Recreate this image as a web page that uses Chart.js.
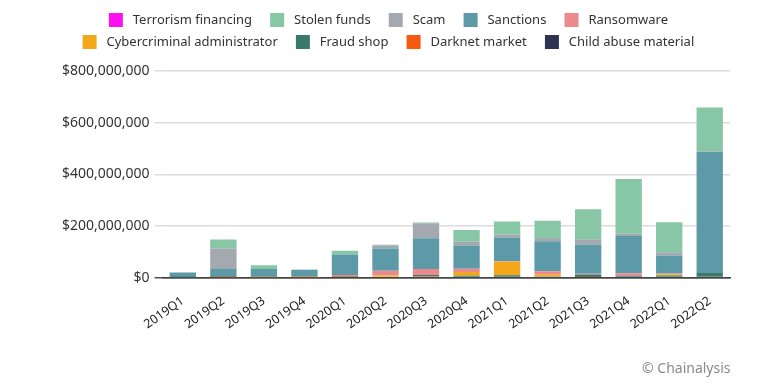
<!DOCTYPE html>
<html>
<head>
<meta charset="utf-8">
<script src="https://cdn.jsdelivr.net/npm/chart.js@4/dist/chart.umd.min.js"></script>
<style>
  html, body { margin: 0; padding: 0; background: #fff; }
  #wrap { position: relative; width: 765px; height: 387px; }
  #credit { position: absolute; left: 642px; top: 358px; font: 14px "Noto Sans", sans-serif; color: #8a8a8a; }
</style>
</head>
<body>
<div id="wrap">
  <canvas id="chart" width="765" height="387"></canvas>
  <div id="credit">© Chainalysis</div>
</div>
<script>
// quarters on the x axis
const quarters = ['2019Q1', '2019Q2', '2019Q3', '2019Q4', '2020Q1', '2020Q2', '2020Q3',
                  '2020Q4', '2021Q1', '2021Q2', '2021Q3', '2021Q4', '2022Q1', '2022Q2'];

// values in millions of USD
const terrorismFinancing = [0, 0, 0, 0, 0, 0, 0, 0, 0, 0, 0, 0, 0, 0];
const stolenFunds  = [0, 36, 15, 2, 15, 2, 3, 45, 50, 67, 116, 212, 116, 170];
const scam         = [0, 79, 0, 0, 0, 12, 58, 15, 12, 12, 21, 9, 12, 3];
const sanctions    = [19, 28, 30, 26, 79, 86, 119, 90, 92, 116, 113, 144, 70, 468];
const ransomware   = [0, 0, 0, 0, 6, 19, 23, 12, 2, 13, 3, 10, 3, 0];
const cyberAdmin   = [0, 0, 2, 1, 0, 5, 0, 15, 52, 8, 0, 0, 5, 0];
const fraudShop    = [1, 4, 1, 1, 2, 3, 6, 4, 9, 4, 10, 7, 8, 18];
const darknetMarket = [0, 1, 0, 1, 2, 0, 4, 3, 0, 0, 2, 0, 0, 0];
const childAbuse   = [0, 0, 0, 0, 0, 0, 0, 0, 0, 0, 0, 0, 0, 0];

const yTicks = [0, 200, 400, 600, 800];

// bottom of the stack first
const datasets = [
  { label: 'Child abuse material', data: childAbuse, backgroundColor: '#2c3250' },
  { label: 'Darknet market', data: darknetMarket, backgroundColor: '#f55a10' },
  { label: 'Fraud shop', data: fraudShop, backgroundColor: '#3b7a6b' },
  { label: 'Cybercriminal administrator', data: cyberAdmin, backgroundColor: '#f4a819' },
  { label: 'Ransomware', data: ransomware, backgroundColor: '#eb898d' },
  { label: 'Sanctions', data: sanctions, backgroundColor: '#5c9aa8' },
  { label: 'Scam', data: scam, backgroundColor: '#a3a9ae' },
  { label: 'Stolen funds', data: stolenFunds, backgroundColor: '#87c7a6' },
  { label: 'Terrorism financing', data: terrorismFinancing, backgroundColor: '#ff10f0' }
];

const yFont = { family: '"Noto Sans", sans-serif', size: 14 };
const xFont = { family: '"Noto Sans", sans-serif', size: 12.5 };
const legendFont = { family: '"Noto Sans", sans-serif', size: 13 };

// extra room between legend and plot
const legendGap = {
  id: 'legendGap',
  beforeInit(chart) {
    const fit = chart.legend.fit;
    chart.legend.fit = function () {
      fit.bind(chart.legend)();
      this.height += 12;
    };
  }
};

new Chart(document.getElementById('chart'), {
  type: 'bar',
  data: { labels: quarters, datasets: datasets },
  plugins: [legendGap],
  options: {
    responsive: false,
    animation: false,
    layout: { padding: { left: 57, right: 35, top: 5, bottom: 47 } },
    datasets: { bar: { barPercentage: 0.65, categoryPercentage: 1 } },
    plugins: {
      tooltip: { enabled: false },
      legend: {
        reverse: true,
        labels: {
          font: legendFont, color: '#333', boxWidth: 14, boxHeight: 14, padding: 8,
          // a bit more air around each label text
          generateLabels: chart => Chart.defaults.plugins.legend.labels.generateLabels(chart)
            .map(item => Object.assign(item, { text: ' ' + item.text + '   ' }))
        }
      }
    },
    scales: {
      x: {
        stacked: true,
        grid: { display: false },
        border: { color: '#444', width: 1.5 },
        ticks: { font: xFont, color: '#222', minRotation: 35, maxRotation: 35, padding: 8 }
      },
      y: {
        stacked: true,
        min: 0,
        max: 800,
        afterBuildTicks: axis => { axis.ticks = yTicks.map(v => ({ value: v })); },
        border: { display: false },
        grid: {
          color: ctx => ctx.tick && ctx.tick.value === 0 ? '#555' : '#dcdcdc',
          lineWidth: 1.5,
          tickLength: 8
        },
        ticks: {
          font: yFont, color: '#333', padding: 5,
          callback: v => '$' + (v * 1e6).toLocaleString('en-US')
        }
      }
    }
  }
});
</script>
</body>
</html>
